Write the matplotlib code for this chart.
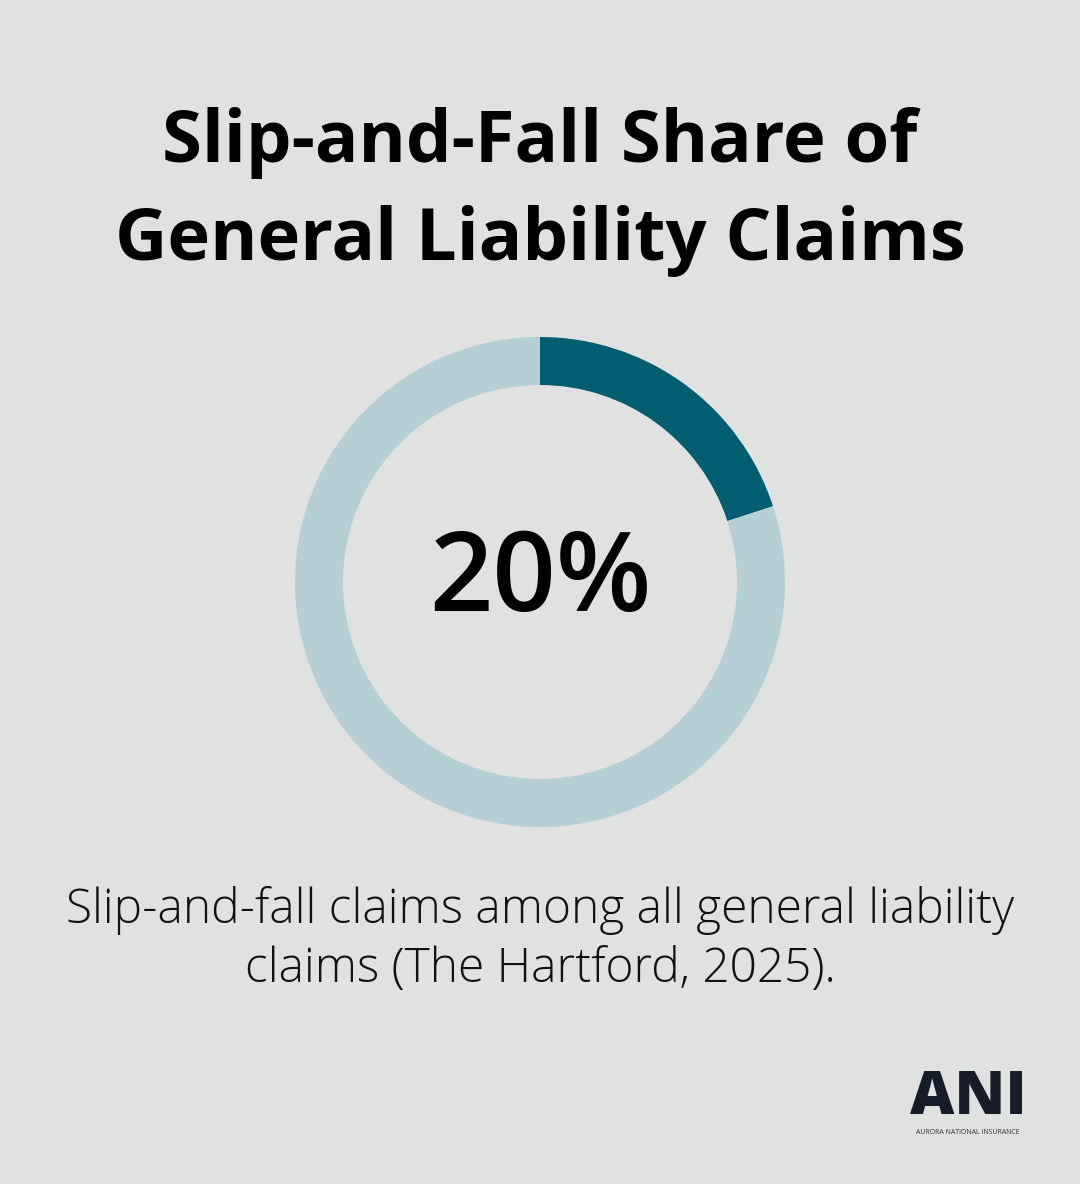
import matplotlib
matplotlib.use("Agg")
import matplotlib.pyplot as plt

title = "Slip-and-Fall Share of\nGeneral Liability Claims"
share = 20
values = [share, 100 - share]
colors = ["#005E70", "#B5CFD4"]
center_label = "20%"
caption = "Slip-and-fall claims among all general liability\nclaims (The Hartford, 2025)."
bg = "#E0E2E1"

fig = plt.figure(figsize=(10.8, 11.84), dpi=100, facecolor=bg)
W, H = 1080, 1184
r = 245
ax = fig.add_axes([(540 - r) / W, 1 - (582 + r) / H, 2 * r / W, 2 * r / H])
ax.set_facecolor(bg)
ax.pie(values, colors=colors, startangle=90, counterclock=False,
       radius=1, wedgeprops=dict(width=48 / 245, edgecolor="none"))
ax.set_xlim(-1, 1); ax.set_ylim(-1, 1); ax.set_aspect("equal"); ax.axis("off")
ax.text(0, 0, center_label, ha="center", va="center", fontsize=80,
        family="Open Sans", weight="semibold", color="#000000")

fig.text(0.5, 1 - 192 / H, title, ha="center", va="center", fontsize=52,
         family="Open Sans", weight="bold", linespacing=1.46, color="#000000")
fig.text(0.5, 1 - 940 / H, caption, ha="center", va="center", fontsize=34.5,
         family="Open Sans", weight="light", linespacing=1.3, color="#111111")
fig.text(968 / W, 1 - 1098 / H, "ANI", ha="center", va="center", fontsize=44,
         family="Open Sans", weight="heavy", color="#161D29")
fig.text(968 / W, 1 - 1132 / H, "AURORA NATIONAL INSURANCE", ha="center", va="center",
         fontsize=5, family="Open Sans", color="#333333")
fig.savefig("out.png", dpi=100, facecolor=bg)
